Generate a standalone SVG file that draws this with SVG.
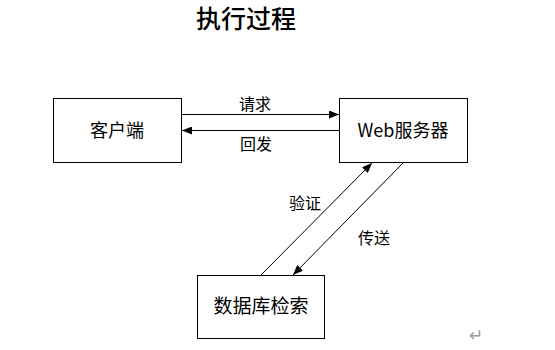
<svg xmlns="http://www.w3.org/2000/svg" width="555" height="350" viewBox="0 0 555 350">
<style>
.box{fill:#fff;stroke:#000;stroke-width:1}
.t{font-family:"Noto Sans CJK SC","Liberation Sans",sans-serif;fill:#000;text-anchor:middle}
.c{stroke:#000;stroke-width:1;fill:none}
</style>
<defs>
<marker id="ah" markerWidth="10" markerHeight="8" refX="10" refY="4" orient="auto" markerUnits="userSpaceOnUse">
<path d="M0,0 L10,4 L0,8 Z" fill="#000"/>
</marker>
</defs>
<rect width="555" height="350" fill="#fff"/>
<text class="t" x="246" y="28" font-size="25" font-weight="500">执行过程</text>
<g id="client"><rect class="box" x="53.500" y="98.500" width="128" height="64"/><text class="t" x="117" y="137" font-size="18">客户端</text></g>
<g id="web"><rect class="box" x="339.500" y="98.500" width="128" height="64"/><text class="t" x="403" y="137" font-size="18">Web服务器</text></g>
<g id="db"><rect class="box" x="197.500" y="275.500" width="127" height="63"/><text class="t" x="261" y="313" font-size="19">数据库检索</text></g>
<g id="connectors">
<line class="c" x1="182" y1="114.500" x2="339" y2="114.500" marker-end="url(#ah)"/>
<line class="c" x1="339" y1="130.500" x2="182" y2="130.500" marker-end="url(#ah)"/>
<line class="c" x1="261" y1="275" x2="372" y2="163" marker-end="url(#ah)"/>
<line class="c" x1="403" y1="163" x2="293" y2="275" marker-end="url(#ah)"/>
<text class="t" x="255" y="110" font-size="16">请求</text>
<text class="t" x="256" y="150" font-size="16">回发</text>
<text class="t" x="305" y="209" font-size="16">验证</text>
<text class="t" x="374" y="244" font-size="16">传送</text>
</g>
<text x="476" y="341" font-family="DejaVu Sans,sans-serif" font-size="17" fill="#999" text-anchor="middle">↵</text>
</svg>
